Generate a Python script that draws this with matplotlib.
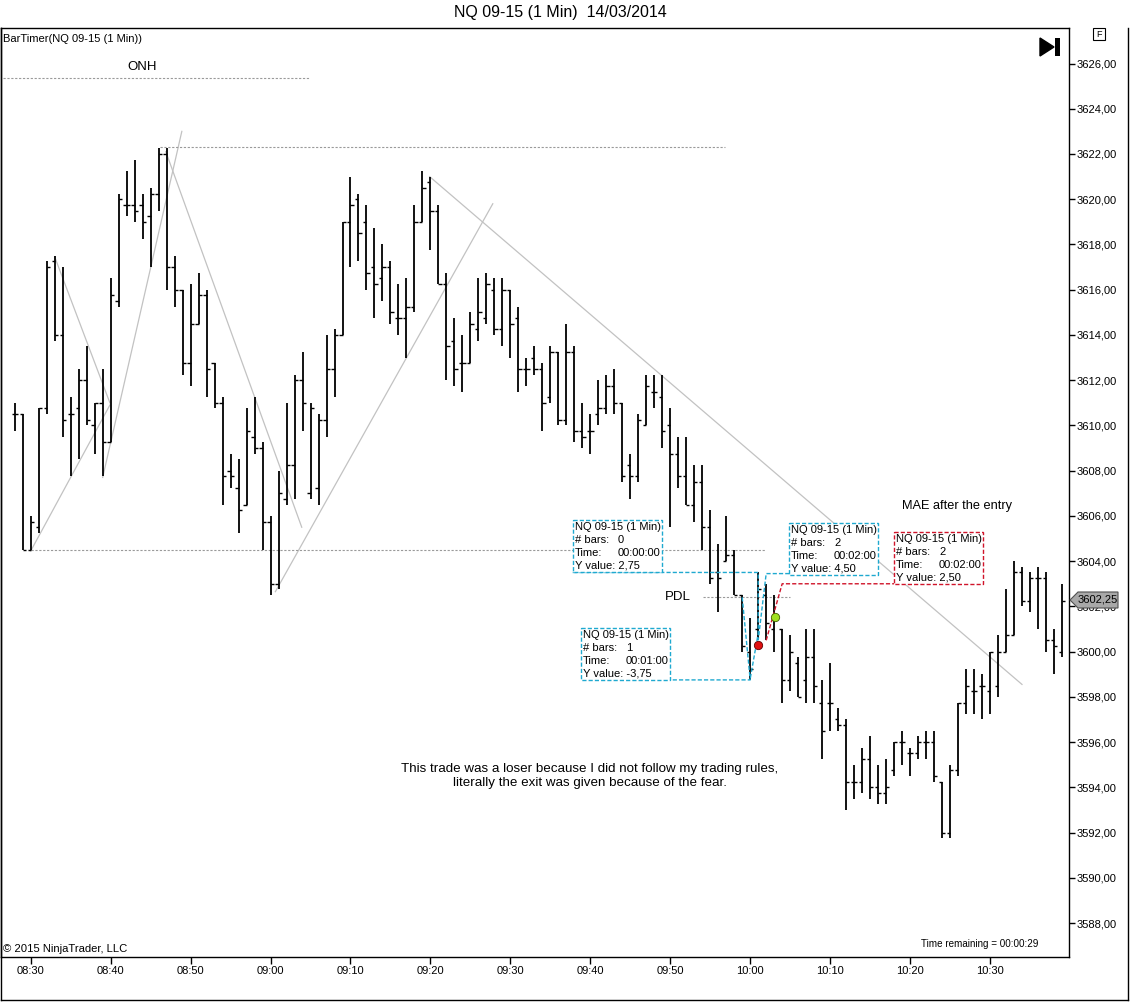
import matplotlib
matplotlib.use("Agg")
import matplotlib.pyplot as plt
from matplotlib.patches import Rectangle, Polygon
from matplotlib.transforms import Affine2D
import numpy as np

plt.rcParams['font.family'] = ['Liberation Sans', 'DejaVu Sans']

# ---------------------------------------------------------------
# NQ 09-15, 1 minute bars, 08:28 -> 10:39 (minutes after 08:30)
# ---------------------------------------------------------------
minutes = np.arange(-2, 130)

opens = [
    3610.5, 3610.5, 3604.5, 3605.5, 3610.75, 3617.25, 3614.0, 3610.5, 3610.75, 3612.0,
    3610.0, 3611.0, 3609.25, 3615.5, 3619.75, 3619.75, 3619.75, 3619.25, 3620.25, 3622.0,
    3617.0, 3616.0, 3612.75, 3614.5, 3615.75, 3612.75, 3611.0, 3608.0, 3607.25, 3606.5,
    3609.5, 3609.0, 3605.75, 3603.0, 3606.75, 3608.25, 3612.0, 3607.0, 3607.25, 3610.25,
    3612.5, 3614.0, 3619.0, 3620.0, 3619.0, 3617.0, 3616.5, 3617.0, 3614.75, 3614.75,
    3615.25, 3619.0, 3620.75, 3619.5, 3616.25, 3613.75, 3612.75, 3612.75, 3614.25, 3614.75,
    3616.0, 3614.25, 3616.0, 3614.75, 3612.5, 3613.0, 3612.5, 3611.25, 3613.25, 3610.25,
    3613.25, 3609.75, 3609.75, 3610.5, 3610.75, 3611.75, 3611.0, 3608.25, 3607.75, 3610.0,
    3611.5, 3611.25, 3610.0, 3608.75, 3607.75, 3606.5, 3607.5, 3605.5, 3603.5, 3604.0,
    3604.25, 3602.5, 3600.0, 3601.0, 3602.5, 3601.0, 3601.0, 3598.75, 3599.5, 3598.75,
    3599.75, 3597.75, 3597.75, 3597.0, 3596.75, 3594.25, 3594.25, 3595.25, 3594.0, 3593.75,
    3594.75, 3596.0, 3595.5, 3595.5, 3596.0, 3596.0, 3594.25, 3592.0, 3594.75, 3597.75,
    3598.25, 3598.5, 3598.25, 3598.5, 3600.0, 3600.75, 3603.5, 3602.25, 3603.25, 3603.25,
    3600.5, 3600.0,
]
highs = [
    3611.0, 3610.5, 3606.0, 3610.75, 3617.25, 3617.5, 3617.0, 3611.25, 3612.5, 3613.5,
    3611.0, 3612.5, 3616.5, 3620.25, 3621.25, 3621.75, 3620.25, 3620.5, 3622.25, 3622.25,
    3617.5, 3616.0, 3616.25, 3616.75, 3616.0, 3612.75, 3611.25, 3608.75, 3608.5, 3610.75,
    3611.25, 3609.25, 3606.0, 3608.0, 3611.0, 3612.25, 3613.25, 3611.0, 3610.5, 3614.0,
    3614.25, 3619.0, 3621.0, 3620.25, 3619.75, 3618.75, 3618.0, 3617.25, 3616.25, 3616.5,
    3619.75, 3621.25, 3621.0, 3619.75, 3616.75, 3614.75, 3614.0, 3615.0, 3616.5, 3616.75,
    3616.5, 3616.5, 3616.0, 3615.25, 3613.0, 3613.5, 3612.75, 3613.5, 3613.25, 3614.5,
    3613.5, 3611.0, 3610.5, 3612.0, 3612.25, 3612.5, 3611.0, 3608.75, 3610.5, 3612.25,
    3612.25, 3612.25, 3610.75, 3609.5, 3609.5, 3608.25, 3608.25, 3606.25, 3604.75, 3606.0,
    3604.5, 3602.5, 3601.5, 3603.5, 3603.0, 3602.5, 3601.0, 3600.75, 3599.75, 3601.0,
    3601.0, 3598.75, 3599.5, 3597.5, 3597.0, 3595.0, 3595.75, 3596.25, 3595.0, 3595.25,
    3596.0, 3596.5, 3595.75, 3596.25, 3596.5, 3596.5, 3594.25, 3595.0, 3597.75, 3599.25,
    3599.25, 3599.0, 3600.0, 3600.75, 3602.75, 3604.0, 3603.75, 3603.5, 3603.75, 3603.5,
    3601.0, 3603.0,
]
lows = [
    3609.75, 3604.5, 3604.5, 3605.25, 3610.5, 3613.75, 3609.5, 3607.75, 3608.5, 3610.0,
    3608.75, 3607.75, 3609.25, 3615.25, 3619.25, 3619.0, 3618.25, 3617.0, 3619.5, 3616.0,
    3615.25, 3612.25, 3611.75, 3614.5, 3611.25, 3610.75, 3606.5, 3607.25, 3605.25, 3606.5,
    3608.75, 3604.5, 3602.5, 3602.75, 3606.5, 3606.75, 3609.75, 3606.75, 3606.5, 3609.5,
    3611.25, 3614.0, 3617.0, 3617.25, 3616.0, 3614.75, 3615.5, 3614.5, 3614.0, 3613.0,
    3615.0, 3619.0, 3617.75, 3616.25, 3612.0, 3611.75, 3611.5, 3612.75, 3613.75, 3614.5,
    3614.0, 3613.5, 3613.0, 3611.5, 3611.75, 3612.25, 3609.75, 3611.0, 3610.0, 3610.0,
    3609.25, 3609.0, 3608.75, 3610.0, 3610.5, 3610.5, 3607.5, 3606.75, 3607.5, 3610.0,
    3610.75, 3609.0, 3605.5, 3607.25, 3606.5, 3605.75, 3604.5, 3603.0, 3601.75, 3604.0,
    3602.5, 3600.0, 3598.75, 3600.5, 3600.5, 3600.0, 3597.75, 3598.25, 3598.0, 3597.75,
    3597.75, 3595.25, 3596.5, 3596.5, 3593.0, 3593.5, 3593.75, 3593.5, 3593.25, 3593.25,
    3594.5, 3595.0, 3594.5, 3595.25, 3595.25, 3594.25, 3591.75, 3591.75, 3594.5, 3597.25,
    3597.25, 3597.0, 3597.25, 3598.0, 3600.0, 3600.75, 3602.0, 3601.75, 3601.0, 3600.0,
    3599.0, 3599.75,
]
closes = [
    3610.5, 3604.5, 3605.75, 3610.75, 3617.0, 3614.0, 3610.25, 3610.5, 3612.0, 3610.25,
    3611.0, 3609.25, 3615.75, 3620.0, 3619.75, 3619.5, 3619.0, 3620.25, 3622.0, 3617.0,
    3616.0, 3612.75, 3614.5, 3615.75, 3612.5, 3611.0, 3607.75, 3607.75, 3606.25, 3609.75,
    3609.0, 3605.75, 3603.0, 3607.0, 3608.25, 3612.0, 3611.0, 3610.75, 3610.25, 3612.5,
    3614.0, 3619.0, 3619.75, 3618.5, 3616.75, 3616.25, 3617.0, 3615.0, 3614.75, 3615.25,
    3619.0, 3620.5, 3619.5, 3616.25, 3613.5, 3612.5, 3612.75, 3614.5, 3615.0, 3616.25,
    3614.25, 3616.0, 3614.5, 3612.5, 3612.5, 3612.5, 3611.0, 3613.25, 3610.25, 3613.25,
    3609.75, 3609.5, 3609.75, 3610.75, 3611.75, 3611.0, 3607.75, 3607.75, 3610.25, 3611.75,
    3611.5, 3609.75, 3608.75, 3607.75, 3606.5, 3607.5, 3605.5, 3603.25, 3603.25, 3604.25,
    3602.5, 3600.25, 3599.25, 3602.75, 3601.25, 3601.5, 3598.75, 3600.0, 3598.0, 3599.75,
    3598.5, 3596.5, 3597.75, 3596.75, 3594.25, 3594.25, 3595.25, 3594.0, 3593.75, 3594.0,
    3596.0, 3596.0, 3595.5, 3596.0, 3596.0, 3594.5, 3592.0, 3594.75, 3597.75, 3598.5,
    3598.25, 3598.5, 3600.0, 3600.0, 3600.75, 3603.5, 3602.25, 3603.25, 3603.25, 3600.5,
    3600.25, 3602.25,
]
last_price = 3602.25

time_ticks = [0, 10, 20, 30, 40, 50, 60, 70, 80, 90, 100, 110, 120]
time_labels = ["08:30", "08:40", "08:50", "09:00", "09:10", "09:20", "09:30",
               "09:40", "09:50", "10:00", "10:10", "10:20", "10:30"]
price_ticks = list(range(3588, 3627, 2))

# drawing-tool objects (minutes, price)
trend_lines = [
    [(0.0, 3604.45), (9.9, 3610.9)],
    [(9.0, 3607.7), (18.9, 3623.0)],
    [(3.0, 3617.45), (9.9, 3611.0)],
    [(16.9, 3622.1), (33.9, 3605.5)],
    [(30.6, 3602.65), (57.8, 3619.8)],
    [(49.9, 3621.0), (124.0, 3598.55)],
]
levels = [  # (price, from, to)
    (3625.35, -3.5, 34.9),   # ONH
    (3622.3, 16.2, 86.9),
    (3604.5, 0.0, 91.9),
    (3602.4, 84.1, 95.0),    # PDL
]
cyan_paths = [
    [(67.8, 3603.5), (91.0, 3603.5), (91.0, 3600.8), (90.0, 3598.8)],
    [(89.0, 3602.4), (90.0, 3598.75), (80.1, 3598.75)],
    [(94.9, 3603.45), (92.0, 3603.45), (91.0, 3600.5)],
]
red_path = [(92.0, 3600.5), (94.0, 3603.0), (108.0, 3603.0)]
entry_pt = (91.0, 3600.3)
exit_pt = (93.05, 3601.55)

W, H = 1130, 1002
fig = plt.figure(figsize=(W / 100, H / 100), dpi=100)
fig.patch.set_facecolor('white')
ax = fig.add_axes([1 / W, (H - 957) / H, 1068 / W, 929 / H])
pix = Affine2D().scale(1 / W, -1 / H).translate(0, 1) + fig.transFigure

ax.set_xlim(-3.72, 129.88)
ax.set_ylim(3586.5, 3627.57)

# OHLC bars
t = np.asarray(minutes, dtype=float)
ax.vlines(t, lows, highs, color='black', lw=1.3, zorder=3)
ax.hlines(opens, t - 0.4, t, color='black', lw=1.0, zorder=3)
ax.hlines(closes, t, t + 0.4, color='black', lw=1.0, zorder=3)

# trend lines and levels
for seg in trend_lines:
    xs, ys = zip(*seg)
    ax.plot(xs, ys, color='#c2c2c2', lw=0.9, zorder=2)
for p, x0, x1 in levels:
    ax.plot([x0, x1], [p, p], color='#9a9a9a', lw=0.8, ls=(0, (2, 1.5)), zorder=2)

cyan = '#1fa9d0'
red = '#d0142a'
for path in cyan_paths:
    xs, ys = zip(*path)
    ax.plot(xs, ys, color=cyan, lw=1.0, ls=(0, (3, 1.5)), zorder=4)
xs, ys = zip(*red_path)
ax.plot(xs, ys, color=red, lw=1.0, ls=(0, (3, 1.5)), zorder=4)
ax.plot(*entry_pt, 'o', ms=6, mfc='#e01010', mec='#600000', mew=0.6, zorder=5)
ax.plot(*exit_pt, 'o', ms=6, mfc='#a0e020', mec='#406000', mew=0.6, zorder=5)

# axes styling
ax.set_xticks(time_ticks)
ax.set_xticklabels(time_labels)
ax.set_yticks(price_ticks)
ax.set_yticklabels([f"{v:.2f}".replace('.', ',') for v in price_ticks])
ax.yaxis.tick_right()
ax.tick_params(axis='y', length=4, width=1, pad=1.5, labelsize=8, colors='black')
ax.tick_params(axis='x', length=5, width=1, pad=1.5, labelsize=8, colors='black')
for s in ax.spines.values():
    s.set_linewidth(1.0)
    s.set_color('black')

# outer frame of chart panel
for seg in ([(1, 28), (1, 1000)], [(1, 1000), (1128, 1000)], [(1128, 28), (1128, 1000)]):
    (x0, y0), (x1, y1) = seg
    fig.add_artist(plt.Line2D([x0, x1], [y0, y1], transform=pix, color='black', lw=1.0))

# text
fig.text(560, 13, "NQ 09-15 (1 Min)  14/03/2014", transform=pix, ha='center', va='center', fontsize=11.5)
fig.text(3, 39, "BarTimer(NQ 09-15 (1 Min))", transform=pix, ha='left', va='center', fontsize=8)
fig.text(142, 67, "ONH", transform=pix, ha='center', va='center', fontsize=9.5)
fig.text(678, 597, "PDL", transform=pix, ha='center', va='center', fontsize=9.5)
fig.text(957, 506, "MAE after the entry", transform=pix, ha='center', va='center', fontsize=9.2)
fig.text(590, 776, "This trade was a loser because I did not follow my trading rules,\n"
         "literally the exit was given because of the fear.",
         transform=pix, ha='center', va='center', fontsize=9.6, linespacing=1.3)
fig.text(3, 949, "\u00a9 2015 NinjaTrader, LLC", transform=pix, ha='left', va='center', fontsize=8.1)
fig.text(1038, 944, "Time remaining = 00:00:29", transform=pix, ha='right', va='center', fontsize=7.1)

# ruler boxes
boxes = [
    (573, 520, cyan, "0", "00:00:00", "2,75"),
    (581, 628, cyan, "1", "00:01:00", "-3,75"),
    (789, 523, cyan, "2", "00:02:00", "4,50"),
    (894, 532, red, "2", "00:02:00", "2,50"),
]
for bx, by, col, nb, tm, yv in boxes:
    fig.add_artist(Rectangle((bx, by), 89, 52, transform=pix, fill=True, facecolor='white',
                             edgecolor=col, lw=1.0, ls=(0, (3, 1.5)), zorder=6))
    rows = [("NQ 09-15 (1 Min)", None), ("# bars:", nb), ("Time:", tm), ("Y value: " + yv, None)]
    for i, (lab, val) in enumerate(rows):
        yy = by + 7 + i * 13
        fig.text(bx + 2, yy, lab, transform=pix, ha='left', va='center', fontsize=8, zorder=7)
        if val is not None:
            fig.text(bx + 45, yy, val, transform=pix, ha='left', va='center', fontsize=8, zorder=7)

# last price marker
fig.add_artist(Polygon([(1070, 600), (1078, 592), (1118, 592), (1118, 608), (1078, 608)],
                       closed=True, transform=pix, facecolor='#a8a8a8', edgecolor='#505050',
                       lw=0.8, zorder=8))
fig.text(1098, 600, f"{last_price:.2f}".replace('.', ','), transform=pix, ha='center',
         va='center', fontsize=8, zorder=9)

# play-to-end icon and F box
fig.add_artist(Polygon([(1040, 38), (1040, 56), (1054, 47)], closed=True, transform=pix,
                       facecolor='black', edgecolor='black', zorder=8))
fig.add_artist(Rectangle((1055, 38), 5, 18, transform=pix, facecolor='black', zorder=8))
fig.add_artist(Rectangle((1093, 28), 12, 12, transform=pix, facecolor='white',
                         edgecolor='black', lw=0.8, zorder=8))
fig.text(1099, 34.5, "F", transform=pix, ha='center', va='center', fontsize=6.5, zorder=9)

fig.savefig("out.png", dpi=100, facecolor='white')
